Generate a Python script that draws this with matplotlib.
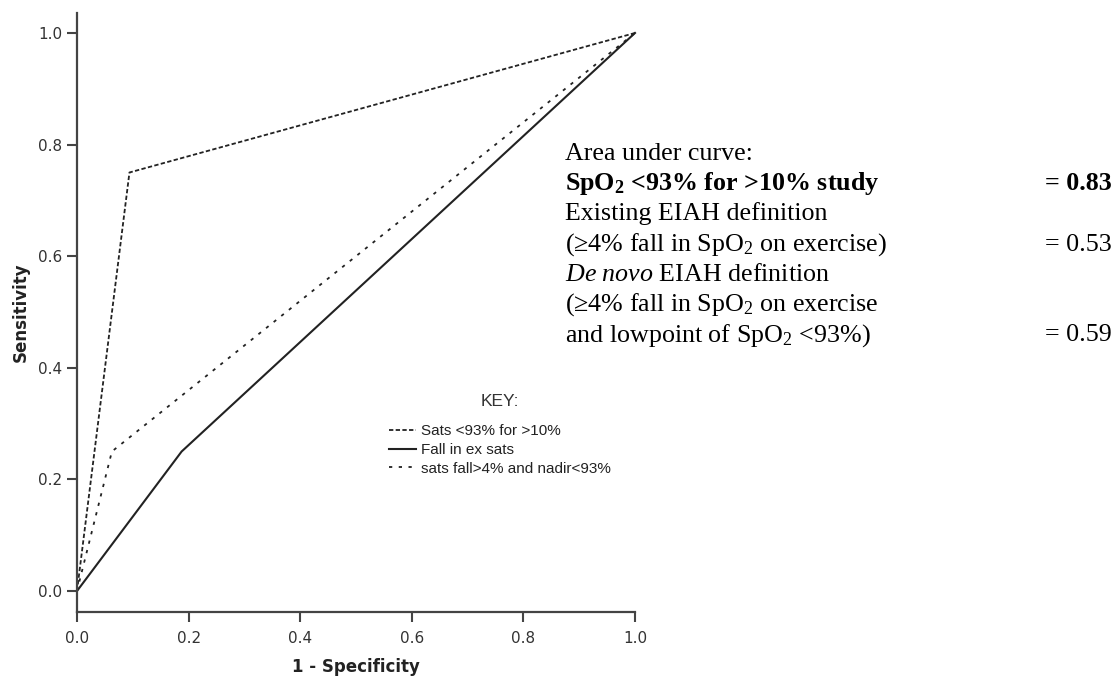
import matplotlib
matplotlib.use("Agg")
import matplotlib.pyplot as plt
from matplotlib.lines import Line2D

# ROC curves (1 - specificity, sensitivity)
fpr_sats = [0.0, 0.094, 1.0]
tpr_sats = [0.0, 0.75, 1.0]
fpr_fall = [0.0, 0.1875, 1.0]
tpr_fall = [0.0, 0.25, 1.0]
fpr_denovo = [0.0, 0.0625, 1.0]
tpr_denovo = [0.0, 0.25, 1.0]

key_labels = ["Sats <93% for >10%", "Fall in ex sats", "sats fall>4% and nadir<93%"]
ticks = [0.0, 0.2, 0.4, 0.6, 0.8, 1.0]

auc_lines = [
    "Area under curve:",
    r"SpO$_\mathbf{2}$ <93% for >10% study",
    "Existing EIAH definition",
    r"(≥4% fall in SpO$_\mathrm{2}$ on exercise)",
    r"$\mathit{De\ novo}$ EIAH definition",
    r"(≥4% fall in SpO$_\mathrm{2}$ on exercise",
    r"and lowpoint of SpO$_\mathrm{2}$ <93%)",
]
auc_values = {1: "= 0.83", 3: "= 0.53", 6: "= 0.59"}

plt.rcParams["mathtext.fontset"] = "custom"
plt.rcParams["mathtext.rm"] = "Liberation Serif"
plt.rcParams["mathtext.it"] = "Liberation Serif:italic"
plt.rcParams["mathtext.bf"] = "Liberation Serif:bold"

W, H = 1114, 679
fig = plt.figure(figsize=(W / 100, H / 100), dpi=100)
ax = fig.add_axes([77 / W, 1 - 612 / H, (635 - 77) / W, (612 - 13) / H])

ls_sats = (0, (2.4, 1.3))
ls_denovo = (0, (1.8, 3.6))
ax.plot(fpr_sats, tpr_sats, color="#222222", lw=1.3, ls=ls_sats, clip_on=False)
ax.plot(fpr_fall, tpr_fall, color="#222222", lw=1.5, ls="-", clip_on=False)
ax.plot(fpr_denovo, tpr_denovo, color="#222222", lw=1.3, ls=ls_denovo, clip_on=False)

ax.set_xlim(0, 1)
ax.set_ylim(-0.0376, 1.0358)
ax.set_xticks(ticks)
ax.set_yticks(ticks)
ax.set_xticklabels([f"{t:.1f}" for t in ticks])
ax.set_yticklabels([f"{t:.1f}" for t in ticks])
ax.tick_params(length=7.5, width=1.5, color="#444444", labelcolor="#333333",
               labelsize=11, pad=3)
ax.tick_params(axis="x", pad=6)
for s in ["top", "right"]:
    ax.spines[s].set_visible(False)
for s in ["left", "bottom"]:
    ax.spines[s].set_linewidth(1.6)
    ax.spines[s].set_color("#444444")

ax.set_xlabel("1 - Specificity", fontsize=12, fontweight="bold", color="#222222", labelpad=9)
ax.set_ylabel("Sensitivity", fontsize=12, fontweight="bold", color="#222222", labelpad=6)

handles = [
    Line2D([], [], color="#222222", lw=1.3, ls=ls_sats),
    Line2D([], [], color="#222222", lw=1.5, ls="-"),
    Line2D([], [], color="#222222", lw=1.3, ls=ls_denovo),
]
leg = ax.legend(handles, key_labels, frameon=False,
                loc="upper left", bbox_to_anchor=(389 / W, 1 - 424 / H),
                bbox_transform=fig.transFigure, borderpad=0, borderaxespad=0,
                handlelength=1.8, handletextpad=0.3, labelspacing=0.32,
                prop={"family": "Liberation Sans", "size": 11})
for t in leg.get_texts():
    t.set_color("#222222")
fig.text(500 / W, 1 - 402 / H, "KEY:", family="Liberation Sans", fontsize=12.5,
         color="#333333", ha="center", va="center")

# area-under-curve note
x0 = 565 / W
xv = 1045 / W
for i, line in enumerate(auc_lines):
    yb = 1 - (160 + 30.2 * i) / H
    w = "bold" if i == 1 else "normal"
    fig.text(x0, yb, line, family="Liberation Serif", fontsize=18.7,
             fontweight=w, va="baseline", ha="left")
    if i in auc_values:
        fig.text(xv, yb, auc_values[i], family="Liberation Serif", fontsize=18.7,
                 fontweight=w, va="baseline", ha="left")

fig.savefig("out.png", dpi=100)
